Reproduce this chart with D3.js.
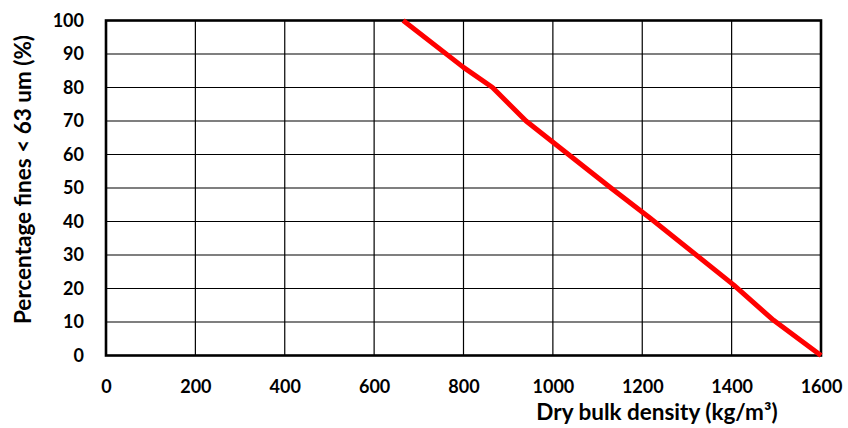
<!DOCTYPE html>
<html><head><meta charset="utf-8">
<script src="https://cdn.jsdelivr.net/npm/d3@7"></script>
<style>body{margin:0;background:#fff}svg{display:block}text{font-family:Lato,"Open Sans",sans-serif;font-weight:bold;fill:#000}</style>
</head><body>
<svg id="c" width="848" height="428"></svg>
<script>
const density = [665, 800, 865, 940, 1035, 1130, 1218, 1405, 1494, 1600];
const fines   = [100, 86, 80, 70, 60, 50, 41, 21, 10.5, 0];
const xTicks = [0, 200, 400, 600, 800, 1000, 1200, 1400, 1600];
const yTicks = [0, 10, 20, 30, 40, 50, 60, 70, 80, 90, 100];
const xTitle = "Dry bulk density (kg/m³)";
const yTitle = "Percentage fines < 63 um (%)";

const svg = d3.select("#c");
const L = 106, R = 821, T = 20.5, B = 355.5;
const x = d3.scaleLinear().domain([0, 1600]).range([L, R]);
const y = d3.scaleLinear().domain([0, 100]).range([B, T]);

const g = svg.append("g");
g.selectAll(".vg").data(xTicks).join("line")
  .attr("x1", d => x(d)).attr("x2", d => x(d)).attr("y1", T).attr("y2", B)
  .attr("stroke", "#000").attr("stroke-width", 1.2);
g.selectAll(".hg").data(yTicks).join("line")
  .attr("y1", d => y(d)).attr("y2", d => y(d)).attr("x1", L).attr("x2", R)
  .attr("stroke", "#000").attr("stroke-width", 1.2);
g.append("rect").attr("x", L).attr("y", T).attr("width", R - L).attr("height", B - T)
  .attr("fill", "none").attr("stroke", "#000").attr("stroke-width", 2.6);

const pts = density.map((d, i) => [d, fines[i]]);
svg.append("path").datum(pts)
  .attr("d", d3.line().x(d => x(d[0])).y(d => y(d[1])))
  .attr("fill", "none").attr("stroke", "#ff0000").attr("stroke-width", 5)
  .attr("stroke-linejoin", "round");

const xa = svg.append("g").attr("transform", `translate(0,${B})`)
  .call(d3.axisBottom(x).tickValues(xTicks).tickSize(0).tickPadding(25).tickFormat(d3.format("d")));
const ya = svg.append("g").attr("transform", `translate(${L},0)`)
  .call(d3.axisLeft(y).tickValues(yTicks).tickSize(0).tickPadding(22).tickFormat(d3.format("d")));
[xa, ya].forEach(a => { a.select(".domain").remove(); a.selectAll("text").attr("font-size", 18).attr("font-family", "Lato").attr("font-weight", "bold").attr("fill", "#000"); });

svg.append("text").attr("x", 657).attr("y", 420).attr("text-anchor", "middle")
  .attr("font-size", 22.5).text(xTitle);
svg.append("text").attr("transform", "translate(31,179.5) rotate(-90)").attr("text-anchor", "middle")
  .attr("font-size", 22.5).text(yTitle);
</script>
</body></html>
